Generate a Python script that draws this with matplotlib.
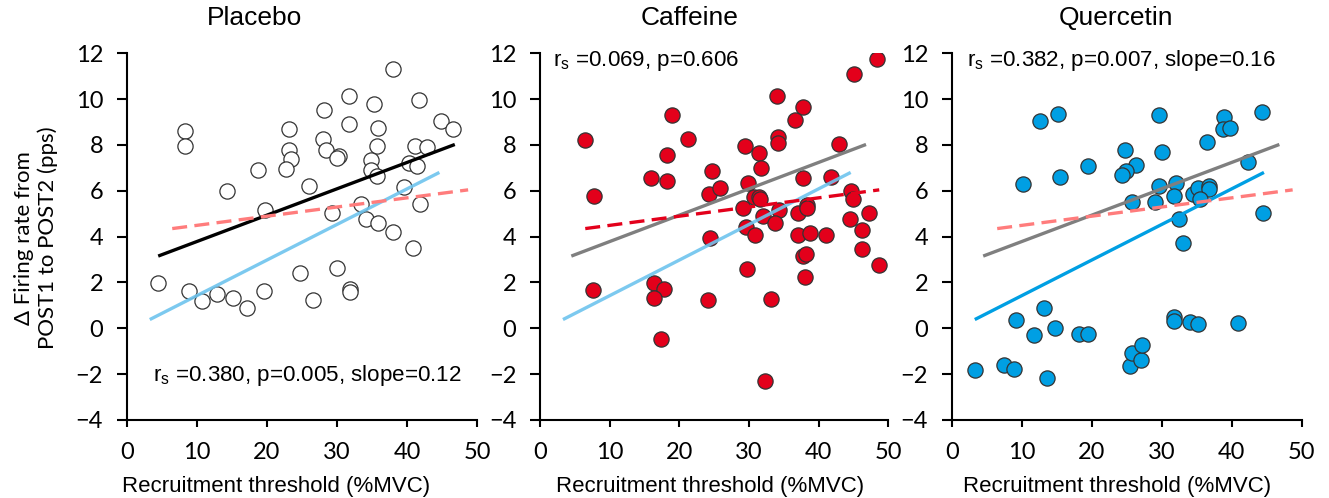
import matplotlib
matplotlib.use("Agg")
import matplotlib.pyplot as plt

# recruitment threshold (%MVC) vs change in firing rate (pps)
placebo_x = [8.3, 8.3, 14.3, 18.8, 19.7, 23.1, 23.2, 23.4, 22.7, 26.0, 28.1, 27.96, 28.5, 30.3, 30.0,
             29.3, 31.7, 31.7, 33.4, 34.2, 35.8, 38.0, 35.3, 35.8, 35.75, 34.8, 34.8, 35.75, 39.5, 38.0,
             41.7, 41.1, 42.8, 40.2, 41.4, 41.8, 44.8, 46.6, 4.5, 8.9, 10.7, 12.9, 15.1, 17.1, 19.6,
             24.7, 26.6, 30.0, 31.8, 31.85, 40.9]
placebo_y = [8.6, 7.95, 5.98, 6.9, 5.18, 8.68, 7.8, 7.38, 6.96, 6.2, 9.52, 8.24, 7.77, 7.52, 7.42,
             5.03, 10.14, 8.9, 5.44, 4.76, 4.61, 11.3, 9.77, 8.72, 7.95, 7.34, 6.9, 6.64, 6.17, 4.2,
             9.96, 7.95, 7.92, 7.22, 7.07, 5.44, 9.04, 8.68, 1.99, 1.62, 1.18, 1.51, 1.30, 0.90, 1.62,
             2.43, 1.25, 2.65, 1.73, 1.59, 3.52]

caffeine_x = [48.4, 45.05, 33.96, 37.8, 36.6, 18.9, 6.46, 21.3, 18.3, 34.2, 34.2, 29.4, 31.5, 42.9, 31.7,
              7.75, 15.9, 18.2, 24.7, 24.3, 25.8, 29.9, 30.7, 31.5, 31.6, 37.7, 41.8, 44.7, 44.9, 29.2,
              34.3, 32.0, 33.7, 37.0, 38.3, 38.3, 44.5, 47.2, 46.2, 29.6, 30.8, 24.4, 37.1, 38.8, 41.1,
              46.2, 48.7, 37.7, 38.2, 38.0, 29.7, 7.56, 16.3, 17.8, 16.3, 24.1, 33.1, 17.4, 32.3]
caffeine_y = [11.73, 11.08, 10.13, 9.64, 9.11, 9.30, 8.21, 8.28, 7.55, 8.35, 8.09, 7.95, 7.67, 8.02, 7.0,
              5.76, 6.54, 6.43, 6.86, 5.88, 6.10, 6.32, 5.73, 5.71, 5.62, 6.56, 6.61, 5.98, 5.66, 5.23,
              5.18, 4.90, 4.60, 5.04, 5.40, 5.23, 4.76, 5.01, 4.28, 4.40, 4.06, 3.93, 4.06, 4.16, 4.09,
              3.48, 2.75, 3.14, 3.22, 2.24, 2.58, 1.69, 1.98, 1.73, 1.30, 1.25, 1.27, -0.45, -2.30]

quercetin_x = [15.2, 12.6, 29.6, 44.3, 38.9, 38.7, 39.8, 36.4, 24.7, 30.0, 19.5, 26.3, 24.9, 24.3, 15.5,
               10.2, 42.3, 29.6, 32.0, 31.8, 34.5, 35.2, 36.7, 36.8, 35.5, 25.7, 29.1, 32.5, 44.4, 33.1,
               3.33, 7.4, 8.9, 9.2, 13.2, 11.7, 14.7, 13.6, 18.2, 19.5, 25.5, 25.8, 27.0, 27.2, 31.7,
               31.8, 34.0, 35.2, 40.9]
quercetin_y = [9.37, 9.04, 9.30, 9.45, 9.23, 8.68, 8.72, 8.11, 7.77, 7.70, 7.07, 7.12, 6.86, 6.68, 6.61,
               6.29, 7.24, 6.22, 6.35, 5.78, 5.88, 6.10, 6.22, 6.06, 5.63, 5.52, 5.52, 4.76, 5.04, 3.72,
               -1.80, -1.59, -1.79, 0.38, 0.90, -0.28, -0.01, -2.15, -0.23, -0.26, -1.66, -1.08, -1.37, -0.74, 0.49,
               0.32, 0.28, 0.20, 0.25]

# regression line end points
placebo_fit_x = [4.5, 46.8]
placebo_fit_y = [3.15, 8.02]
caffeine_fit_x = [6.5, 48.7]
caffeine_fit_y = [4.35, 6.04]
quercetin_fit_x = [3.3, 44.6]
quercetin_fit_y = [0.38, 6.8]

titles = ["Placebo", "Caffeine", "Quercetin"]
stats = ["r$_\\mathregular{s}$ =0.380, p=0.005, slope=0.12",
         "r$_\\mathregular{s}$ =0.069, p=0.606",
         "r$_\\mathregular{s}$ =0.382, p=0.007, slope=0.16"]
stat_pos = [(3.75, -2.05), (1.9, 11.67), (2.15, 11.67)]
xticks = [0, 10, 20, 30, 40, 50]
yticks = [-4, -2, 0, 2, 4, 6, 8, 10, 12]

RED = "#E3001B"
BLUE = "#009FE3"
LIGHTBLUE = "#6EC4EE"
SALMON = "#FF7C7C"
GRAY = "#7F7F7F"

ARIAL = "Liberation Sans"
TICKFONT = "Lato"

fig = plt.figure(figsize=(13.29, 4.98), dpi=100)
lefts = [0.0953, 0.4063, 0.7161]
widths = [0.2638, 0.2621, 0.2634]
title_fx = [0.366, 0.43, 0.47]
xlabel_fx = [0.426, 0.488, 0.472]

xs = [placebo_x, caffeine_x, quercetin_x]
ys = [placebo_y, caffeine_y, quercetin_y]
face = ["white", RED, BLUE]

for i in range(3):
    ax = fig.add_axes([lefts[i], 0.1568, widths[i], 0.7362])
    ax.scatter(xs[i], ys[i], s=120, facecolor=face[i], edgecolor="#333333", linewidth=0.9, zorder=2)

    # reference lines, the panel's own group is drawn strong
    if i == 0:
        ax.plot(placebo_fit_x, placebo_fit_y, color="black", lw=2.4, zorder=3, solid_capstyle="butt")
    else:
        ax.plot(placebo_fit_x, placebo_fit_y, color=GRAY, lw=2.4, zorder=3, solid_capstyle="butt")
    if i == 2:
        ax.plot(quercetin_fit_x, quercetin_fit_y, color=BLUE, lw=2.4, zorder=3, solid_capstyle="butt")
    else:
        ax.plot(quercetin_fit_x, quercetin_fit_y, color=LIGHTBLUE, lw=2.4, alpha=0.9, zorder=3,
                solid_capstyle="butt")
    if i == 1:
        ax.plot(caffeine_fit_x, caffeine_fit_y, color=RED, lw=2.4, dashes=(4.5, 2.2), zorder=3)
    else:
        ax.plot(caffeine_fit_x, caffeine_fit_y, color=SALMON, lw=2.4, dashes=(4.5, 2.2), zorder=3)

    ax.set_xlim(0, 50)
    ax.set_ylim(-4, 12)
    ax.set_xticks(xticks)
    ax.set_yticks(yticks)
    for sp in ["top", "right"]:
        ax.spines[sp].set_visible(False)
    for sp in ["left", "bottom"]:
        ax.spines[sp].set_linewidth(1.5)
    ax.tick_params(axis="y", direction="out", length=7, width=1.5, pad=10, labelsize=17)
    ax.tick_params(axis="x", direction="out", length=5, width=1.5, pad=11, labelsize=17)
    for lab in ax.get_xticklabels() + ax.get_yticklabels():
        lab.set_family(TICKFONT)

    ax.text(title_fx[i], 1.095, titles[i], transform=ax.transAxes, ha="center", va="center",
            fontsize=19, family=ARIAL)
    ax.text(stat_pos[i][0], stat_pos[i][1], stats[i], ha="left", va="center", fontsize=16.1, family=ARIAL)
    ax.set_xlabel("Recruitment threshold (%MVC)", fontsize=16, family=ARIAL)
    ax.xaxis.set_label_coords(xlabel_fx[i], -0.152)

fig.text(0.027, 0.522, "\u0394 Firing rate from\nPOST1 to POST2 (pps)", rotation=90, ha="center",
         va="center", multialignment="center", fontsize=16, family=TICKFONT, linespacing=1.2)

fig.savefig("out.png", dpi=100)
